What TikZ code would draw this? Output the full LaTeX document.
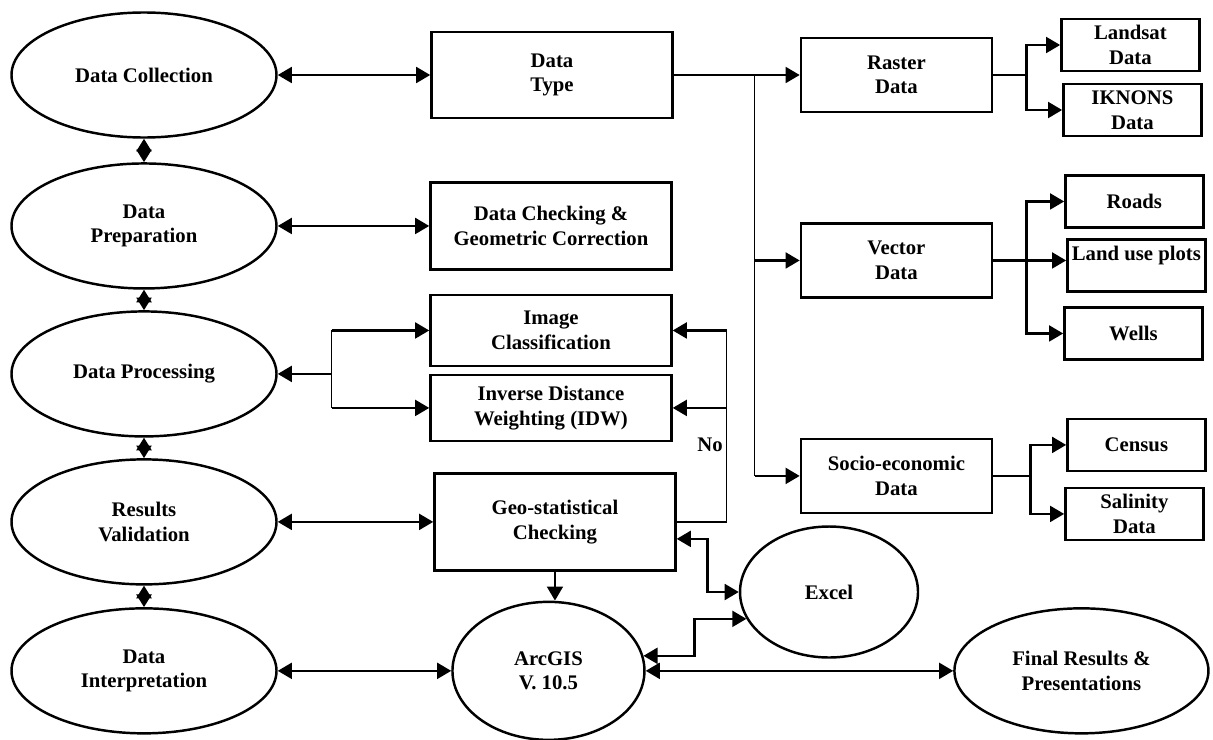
\documentclass[tikz,border=0pt]{standalone}
\usepackage{fontspec}
\setmainfont{Liberation Serif}
\usetikzlibrary{positioning,shapes.geometric,arrows.meta}

\begin{document}
\begin{tikzpicture}[
    node distance=5mm,
    >={Triangle[length=8pt,width=9pt]},
    every node/.style={font=\fontsize{11.8}{14}\selectfont\bfseries},
    phase/.style={draw, ellipse, line width=1.4pt, align=center, inner sep=0pt, minimum width=5.3cm, minimum height=2.5cm},
    tool/.style={draw, ellipse, line width=1.4pt, align=center, inner sep=0pt},
    block/.style={draw, line width=1.4pt, align=center, inner sep=2pt, minimum width=4.82cm},
    group/.style={block, minimum width=3.82cm, minimum height=1.48cm},
    leaf/.style={draw, line width=1.4pt, align=center, inner sep=1pt, minimum width=2.76cm, minimum height=1.04cm},
    link/.style={line width=1.4pt},
    thinlink/.style={line width=0.7pt},
    pair/.style={link, {Triangle[length=7.2pt,width=8.5pt]}-{Triangle[length=7.2pt,width=8.5pt]}}
]
\useasboundingbox (0,0) rectangle (24.26,-14.78);
\node[phase] (dc) at (2.88,-1.5) {Data Collection};
\node[phase, below=4.7mm of dc] (dp) {Data\\Preparation};
\node[phase, below=4.1mm of dp] (dpr) {Data Processing};
\node[phase, below=4.1mm of dpr] (rv) {Results\\Validation};
\node[phase, below=4.3mm of rv] (di) {Data\\Interpretation};
\node[block, minimum height=1.72cm, right=3.05cm of dc] (dt) {Data\\Type};
\node[block, minimum height=1.74cm, right=3.03cm of dp] (chk) {Data Checking \&\\Geometric Correction};
\node[block, minimum height=1.94cm, right=3.11cm of rv] (gs) {Geo-statistical\\Checking};
\node[block, minimum height=1.32cm, above=0.6cm of gs, xshift=-0.08cm] (idw) {Inverse Distance\\Weighting (IDW)};
\node[block, minimum height=1.42cm, above=0.13cm of idw] (ic) {Image\\Classification};
\node[tool, minimum width=3.84cm, minimum height=2.76cm, right=3.47cm of di] (arc) {ArcGIS\\V. 10.5};
\node[tool, minimum width=3.56cm, minimum height=2.62cm] (xl) at (16.58,-11.84) {Excel};
\node[tool, minimum width=5.08cm, minimum height=2.5cm, right=6.15cm of arc] (fr) {Final Results \&\\Presentations};
\node[group, right=2.52cm of dt] (rd) {Raster\\Data};
\node[group, below=2.18cm of rd] (vd) {Vector\\Data};
\node[group, below=2.78cm of vd] (se) {Socio-economic\\Data};
\node[leaf, right=1.34cm of rd, yshift=0.6cm] (ls) {Landsat\\Data};
\node[leaf, right=1.38cm of rd, yshift=-0.7cm] (ik) {IKNONS\\Data};
\node[leaf, right=1.42cm of vd, yshift=1.18cm] (rds) {Roads};
\node[leaf, right=1.46cm of vd, yshift=-0.1cm] (lu) {Land use plots\\\mbox{}};
\node[leaf, right=1.4cm of vd, yshift=-1.46cm] (we) {Wells};
\node[leaf, right=1.46cm of se, yshift=0.62cm] (cen) {Census};
\node[leaf, right=1.42cm of se, yshift=-0.76cm] (sal) {Salinity\\Data};
\node (no) at (14.2,-8.9) {No};
\coordinate[right=1.08cm of dpr] (pb);
\coordinate[right=1.62cm of dt] (tb);
\coordinate[right=0.67cm of rd] (rb);
\coordinate[right=0.67cm of vd] (vb);
\coordinate[right=0.75cm of se] (sb);
\coordinate[right=1.0cm of gs] (nb);
\draw[pair] (dc) -- (dp);
\draw[pair] (dp) -- (dpr);
\draw[pair] (dpr) -- (rv);
\draw[pair] (rv) -- (di);
\draw[link,<->] (dc) -- (dt);
\draw[link,<->] (dp) -- (chk);
\draw[link,->] (pb) -- (dpr);
\draw[thinlink] (pb |- ic) -- (pb |- idw);
\draw[link,->] (pb |- ic) -- (ic);
\draw[link,->] (pb |- idw) -- (idw);
\draw[link,<->] (rv) -- (gs);
\draw[link,<->] (di) -- (arc);
\draw[link,->] (dt) -- (rd);
\draw[thinlink] (tb) -- (tb |- se);
\draw[link,->] (tb |- vd) -- (vd);
\draw[link,->] (tb |- se) -- (se);
\draw[link] (rd) -- (rb);
\draw[link,->] (rb) |- (ls);
\draw[link,->] (rb) |- (ik);
\draw[link,->] (vd) -- (vd -| lu.west);
\draw[link,->] (vb) |- (rds);
\draw[link,->] (vb) |- (we);
\draw[link] (se) -- (sb);
\draw[link,->] (sb) |- (cen);
\draw[link,->] (sb) |- (sal);
\draw[thinlink] (gs) -- (nb) -- (nb |- ic);
\draw[link,->] (nb |- ic) -- (ic);
\draw[link,->] (nb |- idw) -- (idw);
\draw[link,->] (gs.south) -- (gs.south |- arc.north);
\draw[link,<->] ([yshift=-0.34cm]gs.east) -- ++(0.62,0) |- (xl);
\draw[link,<->] (arc.9) -- ++(1.02,0) |- (xl.198);
\draw[link,<->] (arc) -- (fr);
\end{tikzpicture}
\end{document}
